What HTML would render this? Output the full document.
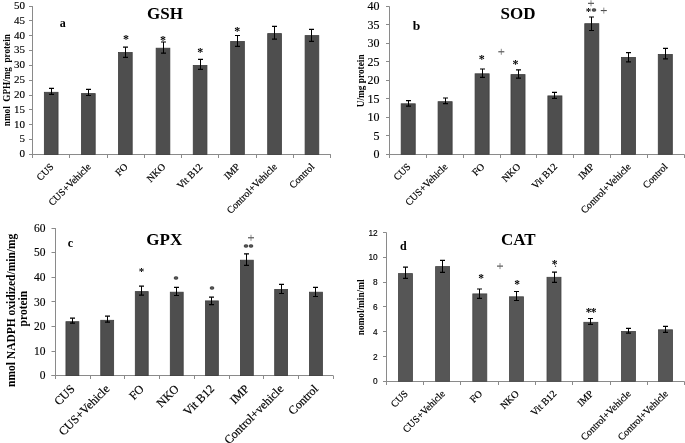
<!DOCTYPE html>
<html><head><meta charset="utf-8"><style>
html,body{margin:0;padding:0;background:#fff;}
body{width:685px;height:443px;overflow:hidden;}
svg{display:block;will-change:transform;}
</style></head><body>
<svg width="685" height="443" viewBox="0 0 685 443">
<rect width="685" height="443" fill="#fff"/>
<line x1="32.5" y1="6.1" x2="32.5" y2="154.4" stroke="#8a8a8a" stroke-width="1"/>
<line x1="29" y1="154.5" x2="330.8" y2="154.5" stroke="#8a8a8a" stroke-width="1"/>
<line x1="29" y1="154.5" x2="32.5" y2="154.5" stroke="#8a8a8a" stroke-width="1"/>
<text x="25" y="157.3" text-anchor="end" font-family='"Liberation Serif", serif' font-size="11" fill="#000" stroke="#000" stroke-width="0.15">0</text>
<line x1="29" y1="139.5" x2="32.5" y2="139.5" stroke="#8a8a8a" stroke-width="1"/>
<text x="25" y="142.47" text-anchor="end" font-family='"Liberation Serif", serif' font-size="11" fill="#000" stroke="#000" stroke-width="0.15">5</text>
<line x1="29" y1="124.5" x2="32.5" y2="124.5" stroke="#8a8a8a" stroke-width="1"/>
<text x="25" y="127.64" text-anchor="end" font-family='"Liberation Serif", serif' font-size="11" fill="#000" stroke="#000" stroke-width="0.15">10</text>
<line x1="29" y1="109.5" x2="32.5" y2="109.5" stroke="#8a8a8a" stroke-width="1"/>
<text x="25" y="112.81" text-anchor="end" font-family='"Liberation Serif", serif' font-size="11" fill="#000" stroke="#000" stroke-width="0.15">15</text>
<line x1="29" y1="95.5" x2="32.5" y2="95.5" stroke="#8a8a8a" stroke-width="1"/>
<text x="25" y="97.98" text-anchor="end" font-family='"Liberation Serif", serif' font-size="11" fill="#000" stroke="#000" stroke-width="0.15">20</text>
<line x1="29" y1="80.5" x2="32.5" y2="80.5" stroke="#8a8a8a" stroke-width="1"/>
<text x="25" y="83.15" text-anchor="end" font-family='"Liberation Serif", serif' font-size="11" fill="#000" stroke="#000" stroke-width="0.15">25</text>
<line x1="29" y1="65.5" x2="32.5" y2="65.5" stroke="#8a8a8a" stroke-width="1"/>
<text x="25" y="68.32" text-anchor="end" font-family='"Liberation Serif", serif' font-size="11" fill="#000" stroke="#000" stroke-width="0.15">30</text>
<line x1="29" y1="50.5" x2="32.5" y2="50.5" stroke="#8a8a8a" stroke-width="1"/>
<text x="25" y="53.49" text-anchor="end" font-family='"Liberation Serif", serif' font-size="11" fill="#000" stroke="#000" stroke-width="0.15">35</text>
<line x1="29" y1="35.5" x2="32.5" y2="35.5" stroke="#8a8a8a" stroke-width="1"/>
<text x="25" y="38.66" text-anchor="end" font-family='"Liberation Serif", serif' font-size="11" fill="#000" stroke="#000" stroke-width="0.15">40</text>
<line x1="29" y1="20.5" x2="32.5" y2="20.5" stroke="#8a8a8a" stroke-width="1"/>
<text x="25" y="23.83" text-anchor="end" font-family='"Liberation Serif", serif' font-size="11" fill="#000" stroke="#000" stroke-width="0.15">45</text>
<line x1="29" y1="6.5" x2="32.5" y2="6.5" stroke="#8a8a8a" stroke-width="1"/>
<text x="25" y="9" text-anchor="end" font-family='"Liberation Serif", serif' font-size="11" fill="#000" stroke="#000" stroke-width="0.15">50</text>
<line x1="32.5" y1="154.5" x2="32.5" y2="158" stroke="#8a8a8a" stroke-width="1"/>
<line x1="69.5" y1="154.5" x2="69.5" y2="158" stroke="#8a8a8a" stroke-width="1"/>
<line x1="107.5" y1="154.5" x2="107.5" y2="158" stroke="#8a8a8a" stroke-width="1"/>
<line x1="144.5" y1="154.5" x2="144.5" y2="158" stroke="#8a8a8a" stroke-width="1"/>
<line x1="181.5" y1="154.5" x2="181.5" y2="158" stroke="#8a8a8a" stroke-width="1"/>
<line x1="218.5" y1="154.5" x2="218.5" y2="158" stroke="#8a8a8a" stroke-width="1"/>
<line x1="256.5" y1="154.5" x2="256.5" y2="158" stroke="#8a8a8a" stroke-width="1"/>
<line x1="293.5" y1="154.5" x2="293.5" y2="158" stroke="#8a8a8a" stroke-width="1"/>
<line x1="330.5" y1="154.5" x2="330.5" y2="158" stroke="#8a8a8a" stroke-width="1"/>
<rect x="44.35" y="92.3" width="13.7" height="62.1" fill="#4e4e4e" stroke="#3c3c3c" stroke-width="0.8"/>
<path d="M49 88.3H54M49 94.4H54" stroke="#000" stroke-width="1.2" fill="none"/>
<path d="M51.5 88.3V94.4" stroke="#000" stroke-width="1" fill="none"/>
<text transform="translate(54.2,167.4) rotate(-45)" text-anchor="end" font-family='"Liberation Serif", serif' font-size="10" fill="#000" stroke="#000" stroke-width="0.2">CUS</text>
<rect x="81.5" y="93.6" width="13.7" height="60.8" fill="#4e4e4e" stroke="#3c3c3c" stroke-width="0.8"/>
<path d="M86 89.4H91M86 95.5H91" stroke="#000" stroke-width="1.2" fill="none"/>
<path d="M88.5 89.4V95.5" stroke="#000" stroke-width="1" fill="none"/>
<text transform="translate(91.35,167.4) rotate(-45)" text-anchor="end" font-family='"Liberation Serif", serif' font-size="10" fill="#000" stroke="#000" stroke-width="0.2">CUS+Vehicle</text>
<rect x="118.5" y="52.5" width="13.7" height="101.9" fill="#4e4e4e" stroke="#3c3c3c" stroke-width="0.8"/>
<path d="M123 47.2H128M123 57.4H128" stroke="#000" stroke-width="1.2" fill="none"/>
<path d="M125.5 47.2V57.4" stroke="#000" stroke-width="1" fill="none"/>
<text transform="translate(128.35,167.4) rotate(-45)" text-anchor="end" font-family='"Liberation Serif", serif' font-size="10" fill="#000" stroke="#000" stroke-width="0.2">FO</text>
<rect x="156.15" y="48.2" width="13.7" height="106.2" fill="#4e4e4e" stroke="#3c3c3c" stroke-width="0.8"/>
<path d="M161 42H166M161 53.2H166" stroke="#000" stroke-width="1.2" fill="none"/>
<path d="M163.5 42V53.2" stroke="#000" stroke-width="1" fill="none"/>
<text transform="translate(166,167.4) rotate(-45)" text-anchor="end" font-family='"Liberation Serif", serif' font-size="10" fill="#000" stroke="#000" stroke-width="0.2">NKO</text>
<rect x="193.25" y="65.4" width="13.7" height="89" fill="#4e4e4e" stroke="#3c3c3c" stroke-width="0.8"/>
<path d="M198 59.3H203M198 69.3H203" stroke="#000" stroke-width="1.2" fill="none"/>
<path d="M200.5 59.3V69.3" stroke="#000" stroke-width="1" fill="none"/>
<text transform="translate(203.1,167.4) rotate(-45)" text-anchor="end" font-family='"Liberation Serif", serif' font-size="10" fill="#000" stroke="#000" stroke-width="0.2">Vit B12</text>
<rect x="230.65" y="41.5" width="13.7" height="112.9" fill="#4e4e4e" stroke="#3c3c3c" stroke-width="0.8"/>
<path d="M235 35.5H240M235 46.3H240" stroke="#000" stroke-width="1.2" fill="none"/>
<path d="M237.5 35.5V46.3" stroke="#000" stroke-width="1" fill="none"/>
<text transform="translate(240.5,167.4) rotate(-45)" text-anchor="end" font-family='"Liberation Serif", serif' font-size="10" fill="#000" stroke="#000" stroke-width="0.2">IMP</text>
<rect x="267.7" y="33.6" width="13.7" height="120.8" fill="#4e4e4e" stroke="#3c3c3c" stroke-width="0.8"/>
<path d="M272 26.4H277M272 39.1H277" stroke="#000" stroke-width="1.2" fill="none"/>
<path d="M274.5 26.4V39.1" stroke="#000" stroke-width="1" fill="none"/>
<text transform="translate(277.55,167.4) rotate(-45)" text-anchor="end" font-family='"Liberation Serif", serif' font-size="10" fill="#000" stroke="#000" stroke-width="0.2">Control+Vehicle</text>
<rect x="305.1" y="35.6" width="13.7" height="118.8" fill="#4e4e4e" stroke="#3c3c3c" stroke-width="0.8"/>
<path d="M309 29.4H314M309 41.3H314" stroke="#000" stroke-width="1.2" fill="none"/>
<path d="M311.5 29.4V41.3" stroke="#000" stroke-width="1" fill="none"/>
<text transform="translate(314.95,167.4) rotate(-45)" text-anchor="end" font-family='"Liberation Serif", serif' font-size="10" fill="#000" stroke="#000" stroke-width="0.2">Control</text>
<text x="165" y="18.6" text-anchor="middle" font-family='"Liberation Serif", serif' font-weight="bold" font-size="17" fill="#000">GSH</text>
<text x="59.8" y="26.7" font-family='"Liberation Serif", serif' font-weight="bold" font-size="12" fill="#000">a</text>
<text transform="translate(10,80.2) rotate(-90) scale(0.9,1)" text-anchor="middle" font-family='"Liberation Serif", serif' font-weight="bold" font-size="10.2" fill="#000" style="white-space:pre">nmol  GPH/mg  protein</text>
<text x="125.9" y="43" text-anchor="middle" font-family='"Liberation Serif", serif' font-weight="bold" font-size="12" fill="#000">*</text>
<text x="162.9" y="43.7" text-anchor="middle" font-family='"Liberation Serif", serif' font-weight="bold" font-size="12" fill="#000">*</text>
<text x="200.3" y="56.2" text-anchor="middle" font-family='"Liberation Serif", serif' font-weight="bold" font-size="12" fill="#000">*</text>
<text x="237.2" y="35.1" text-anchor="middle" font-family='"Liberation Serif", serif' font-weight="bold" font-size="12" fill="#000">*</text>
<line x1="389.5" y1="6.4" x2="389.5" y2="154.3" stroke="#8a8a8a" stroke-width="1"/>
<line x1="386" y1="154.5" x2="684.5" y2="154.5" stroke="#8a8a8a" stroke-width="1"/>
<line x1="386" y1="154.5" x2="389.5" y2="154.5" stroke="#8a8a8a" stroke-width="1"/>
<text x="379.6" y="158.2" text-anchor="end" font-family='"Liberation Serif", serif' font-size="12" fill="#000" stroke="#000" stroke-width="0.15">0</text>
<line x1="386" y1="135.5" x2="389.5" y2="135.5" stroke="#8a8a8a" stroke-width="1"/>
<text x="379.6" y="139.71" text-anchor="end" font-family='"Liberation Serif", serif' font-size="12" fill="#000" stroke="#000" stroke-width="0.15">5</text>
<line x1="386" y1="117.5" x2="389.5" y2="117.5" stroke="#8a8a8a" stroke-width="1"/>
<text x="379.6" y="121.23" text-anchor="end" font-family='"Liberation Serif", serif' font-size="12" fill="#000" stroke="#000" stroke-width="0.15">10</text>
<line x1="386" y1="98.5" x2="389.5" y2="98.5" stroke="#8a8a8a" stroke-width="1"/>
<text x="379.6" y="102.74" text-anchor="end" font-family='"Liberation Serif", serif' font-size="12" fill="#000" stroke="#000" stroke-width="0.15">15</text>
<line x1="386" y1="80.5" x2="389.5" y2="80.5" stroke="#8a8a8a" stroke-width="1"/>
<text x="379.6" y="84.25" text-anchor="end" font-family='"Liberation Serif", serif' font-size="12" fill="#000" stroke="#000" stroke-width="0.15">20</text>
<line x1="386" y1="61.5" x2="389.5" y2="61.5" stroke="#8a8a8a" stroke-width="1"/>
<text x="379.6" y="65.76" text-anchor="end" font-family='"Liberation Serif", serif' font-size="12" fill="#000" stroke="#000" stroke-width="0.15">25</text>
<line x1="386" y1="43.5" x2="389.5" y2="43.5" stroke="#8a8a8a" stroke-width="1"/>
<text x="379.6" y="47.27" text-anchor="end" font-family='"Liberation Serif", serif' font-size="12" fill="#000" stroke="#000" stroke-width="0.15">30</text>
<line x1="386" y1="24.5" x2="389.5" y2="24.5" stroke="#8a8a8a" stroke-width="1"/>
<text x="379.6" y="28.79" text-anchor="end" font-family='"Liberation Serif", serif' font-size="12" fill="#000" stroke="#000" stroke-width="0.15">35</text>
<line x1="386" y1="6.5" x2="389.5" y2="6.5" stroke="#8a8a8a" stroke-width="1"/>
<text x="379.6" y="10.3" text-anchor="end" font-family='"Liberation Serif", serif' font-size="12" fill="#000" stroke="#000" stroke-width="0.15">40</text>
<line x1="389.5" y1="154.5" x2="389.5" y2="158" stroke="#8a8a8a" stroke-width="1"/>
<line x1="426.5" y1="154.5" x2="426.5" y2="158" stroke="#8a8a8a" stroke-width="1"/>
<line x1="463.5" y1="154.5" x2="463.5" y2="158" stroke="#8a8a8a" stroke-width="1"/>
<line x1="500.5" y1="154.5" x2="500.5" y2="158" stroke="#8a8a8a" stroke-width="1"/>
<line x1="536.5" y1="154.5" x2="536.5" y2="158" stroke="#8a8a8a" stroke-width="1"/>
<line x1="573.5" y1="154.5" x2="573.5" y2="158" stroke="#8a8a8a" stroke-width="1"/>
<line x1="610.5" y1="154.5" x2="610.5" y2="158" stroke="#8a8a8a" stroke-width="1"/>
<line x1="647.5" y1="154.5" x2="647.5" y2="158" stroke="#8a8a8a" stroke-width="1"/>
<line x1="684.5" y1="154.5" x2="684.5" y2="158" stroke="#8a8a8a" stroke-width="1"/>
<rect x="401.18" y="103.8" width="14.05" height="50.5" fill="#4e4e4e" stroke="#3c3c3c" stroke-width="0.8"/>
<path d="M406 100.6H411M406 106.2H411" stroke="#000" stroke-width="1.2" fill="none"/>
<path d="M408.5 100.6V106.2" stroke="#000" stroke-width="1" fill="none"/>
<text transform="translate(411.2,167.3) rotate(-45)" text-anchor="end" font-family='"Liberation Serif", serif' font-size="10" fill="#000" stroke="#000" stroke-width="0.2">CUS</text>
<rect x="438.08" y="101.7" width="14.05" height="52.6" fill="#4e4e4e" stroke="#3c3c3c" stroke-width="0.8"/>
<path d="M443 98H448M443 103.6H448" stroke="#000" stroke-width="1.2" fill="none"/>
<path d="M445.5 98V103.6" stroke="#000" stroke-width="1" fill="none"/>
<text transform="translate(448.1,167.3) rotate(-45)" text-anchor="end" font-family='"Liberation Serif", serif' font-size="10" fill="#000" stroke="#000" stroke-width="0.2">CUS+Vehicle</text>
<rect x="475.08" y="73.8" width="14.05" height="80.5" fill="#4e4e4e" stroke="#3c3c3c" stroke-width="0.8"/>
<path d="M480 69H485M480 77.4H485" stroke="#000" stroke-width="1.2" fill="none"/>
<path d="M482.5 69V77.4" stroke="#000" stroke-width="1" fill="none"/>
<text transform="translate(485.1,167.3) rotate(-45)" text-anchor="end" font-family='"Liberation Serif", serif' font-size="10" fill="#000" stroke="#000" stroke-width="0.2">FO</text>
<rect x="510.98" y="74.6" width="14.05" height="79.7" fill="#4e4e4e" stroke="#3c3c3c" stroke-width="0.8"/>
<path d="M516 69.9H521M516 78.2H521" stroke="#000" stroke-width="1.2" fill="none"/>
<path d="M518.5 69.9V78.2" stroke="#000" stroke-width="1" fill="none"/>
<text transform="translate(521,167.3) rotate(-45)" text-anchor="end" font-family='"Liberation Serif", serif' font-size="10" fill="#000" stroke="#000" stroke-width="0.2">NKO</text>
<rect x="547.88" y="95.9" width="14.05" height="58.4" fill="#4e4e4e" stroke="#3c3c3c" stroke-width="0.8"/>
<path d="M552 92.3H557M552 98.3H557" stroke="#000" stroke-width="1.2" fill="none"/>
<path d="M554.5 92.3V98.3" stroke="#000" stroke-width="1" fill="none"/>
<text transform="translate(557.9,167.3) rotate(-45)" text-anchor="end" font-family='"Liberation Serif", serif' font-size="10" fill="#000" stroke="#000" stroke-width="0.2">Vit B12</text>
<rect x="584.77" y="23.7" width="14.05" height="130.6" fill="#4e4e4e" stroke="#3c3c3c" stroke-width="0.8"/>
<path d="M589 17H594M589 30.5H594" stroke="#000" stroke-width="1.2" fill="none"/>
<path d="M591.5 17V30.5" stroke="#000" stroke-width="1" fill="none"/>
<text transform="translate(594.8,167.3) rotate(-45)" text-anchor="end" font-family='"Liberation Serif", serif' font-size="10" fill="#000" stroke="#000" stroke-width="0.2">IMP</text>
<rect x="621.43" y="57.4" width="14.05" height="96.9" fill="#4e4e4e" stroke="#3c3c3c" stroke-width="0.8"/>
<path d="M626 52.6H631M626 61.9H631" stroke="#000" stroke-width="1.2" fill="none"/>
<path d="M628.5 52.6V61.9" stroke="#000" stroke-width="1" fill="none"/>
<text transform="translate(631.45,167.3) rotate(-45)" text-anchor="end" font-family='"Liberation Serif", serif' font-size="10" fill="#000" stroke="#000" stroke-width="0.2">Control+Vehicle</text>
<rect x="658.27" y="54.4" width="14.05" height="99.9" fill="#4e4e4e" stroke="#3c3c3c" stroke-width="0.8"/>
<path d="M663 48.3H668M663 58.9H668" stroke="#000" stroke-width="1.2" fill="none"/>
<path d="M665.5 48.3V58.9" stroke="#000" stroke-width="1" fill="none"/>
<text transform="translate(668.3,167.3) rotate(-45)" text-anchor="end" font-family='"Liberation Serif", serif' font-size="10" fill="#000" stroke="#000" stroke-width="0.2">Control</text>
<text x="518" y="18.7" text-anchor="middle" font-family='"Liberation Serif", serif' font-weight="bold" font-size="17" fill="#000">SOD</text>
<text x="412.8" y="29.8" font-family='"Liberation Serif", serif' font-weight="bold" font-size="13.5" fill="#000">b</text>
<text transform="translate(363.6,80.8) rotate(-90) scale(1,1)" text-anchor="middle" font-family='"Liberation Serif", serif' font-weight="bold" font-size="9.3" fill="#000" style="white-space:pre">U/mg protein</text>
<text x="481.7" y="62.7" text-anchor="middle" font-family='"Liberation Serif", serif' font-weight="bold" font-size="12" fill="#000">*</text>
<text x="515.4" y="68.1" text-anchor="middle" font-family='"Liberation Serif", serif' font-weight="bold" font-size="12" fill="#000">*</text>
<text x="588.5" y="15.04" text-anchor="middle" font-family='"Liberation Serif", serif' font-weight="bold" font-size="11" fill="#000">*</text>
<text x="593.9" y="15.04" text-anchor="middle" font-family='"Liberation Serif", serif' font-weight="bold" font-size="11" fill="#000">*</text>
<path d="M588 3.3H594" stroke="#222" stroke-width="0.9" fill="none"/>
<path d="M591 0.3V6.3" stroke="#666" stroke-width="0.75" fill="none"/>
<path d="M600.8 10.6H606.8" stroke="#222" stroke-width="0.9" fill="none"/>
<path d="M603.8 7.6V13.6" stroke="#666" stroke-width="0.75" fill="none"/>
<path d="M498.3 51.8H504.3" stroke="#222" stroke-width="0.9" fill="none"/>
<path d="M501.3 48.8V54.8" stroke="#666" stroke-width="0.75" fill="none"/>
<line x1="55.5" y1="228.1" x2="55.5" y2="375.6" stroke="#8a8a8a" stroke-width="1"/>
<line x1="51.5" y1="375.5" x2="333.2" y2="375.5" stroke="#8a8a8a" stroke-width="1"/>
<line x1="51.5" y1="375.5" x2="55.5" y2="375.5" stroke="#8a8a8a" stroke-width="1"/>
<text x="45.5" y="379.4" text-anchor="end" font-family='"Liberation Serif", serif' font-size="11.5" fill="#000" stroke="#000" stroke-width="0.15">0</text>
<line x1="51.5" y1="351.5" x2="55.5" y2="351.5" stroke="#8a8a8a" stroke-width="1"/>
<text x="45.5" y="354.82" text-anchor="end" font-family='"Liberation Serif", serif' font-size="11.5" fill="#000" stroke="#000" stroke-width="0.15">10</text>
<line x1="51.5" y1="326.5" x2="55.5" y2="326.5" stroke="#8a8a8a" stroke-width="1"/>
<text x="45.5" y="330.23" text-anchor="end" font-family='"Liberation Serif", serif' font-size="11.5" fill="#000" stroke="#000" stroke-width="0.15">20</text>
<line x1="51.5" y1="301.5" x2="55.5" y2="301.5" stroke="#8a8a8a" stroke-width="1"/>
<text x="45.5" y="305.65" text-anchor="end" font-family='"Liberation Serif", serif' font-size="11.5" fill="#000" stroke="#000" stroke-width="0.15">30</text>
<line x1="51.5" y1="277.5" x2="55.5" y2="277.5" stroke="#8a8a8a" stroke-width="1"/>
<text x="45.5" y="281.07" text-anchor="end" font-family='"Liberation Serif", serif' font-size="11.5" fill="#000" stroke="#000" stroke-width="0.15">40</text>
<line x1="51.5" y1="252.5" x2="55.5" y2="252.5" stroke="#8a8a8a" stroke-width="1"/>
<text x="45.5" y="256.48" text-anchor="end" font-family='"Liberation Serif", serif' font-size="11.5" fill="#000" stroke="#000" stroke-width="0.15">50</text>
<line x1="51.5" y1="228.5" x2="55.5" y2="228.5" stroke="#8a8a8a" stroke-width="1"/>
<text x="45.5" y="231.9" text-anchor="end" font-family='"Liberation Serif", serif' font-size="11.5" fill="#000" stroke="#000" stroke-width="0.15">60</text>
<line x1="55.5" y1="375.5" x2="55.5" y2="379" stroke="#8a8a8a" stroke-width="1"/>
<line x1="90.5" y1="375.5" x2="90.5" y2="379" stroke="#8a8a8a" stroke-width="1"/>
<line x1="124.5" y1="375.5" x2="124.5" y2="379" stroke="#8a8a8a" stroke-width="1"/>
<line x1="159.5" y1="375.5" x2="159.5" y2="379" stroke="#8a8a8a" stroke-width="1"/>
<line x1="194.5" y1="375.5" x2="194.5" y2="379" stroke="#8a8a8a" stroke-width="1"/>
<line x1="229.5" y1="375.5" x2="229.5" y2="379" stroke="#8a8a8a" stroke-width="1"/>
<line x1="263.5" y1="375.5" x2="263.5" y2="379" stroke="#8a8a8a" stroke-width="1"/>
<line x1="298.5" y1="375.5" x2="298.5" y2="379" stroke="#8a8a8a" stroke-width="1"/>
<line x1="333.5" y1="375.5" x2="333.5" y2="379" stroke="#8a8a8a" stroke-width="1"/>
<rect x="65.95" y="321.7" width="12.9" height="53.9" fill="#4e4e4e" stroke="#3c3c3c" stroke-width="0.8"/>
<path d="M70 318.2H75M70 323.1H75" stroke="#000" stroke-width="1.2" fill="none"/>
<path d="M72.5 318.2V323.1" stroke="#000" stroke-width="1" fill="none"/>
<text transform="translate(75.4,389.6) rotate(-45)" text-anchor="end" font-family='"Liberation Serif", serif' font-size="12" fill="#000" stroke="#000" stroke-width="0.2">CUS</text>
<rect x="100.75" y="320.3" width="12.9" height="55.3" fill="#4e4e4e" stroke="#3c3c3c" stroke-width="0.8"/>
<path d="M105 316.2H110M105 322.2H110" stroke="#000" stroke-width="1.2" fill="none"/>
<path d="M107.5 316.2V322.2" stroke="#000" stroke-width="1" fill="none"/>
<text transform="translate(110.2,389.6) rotate(-45)" text-anchor="end" font-family='"Liberation Serif", serif' font-size="12" fill="#000" stroke="#000" stroke-width="0.2">CUS+Vehicle</text>
<rect x="135.3" y="291.6" width="12.9" height="84" fill="#4e4e4e" stroke="#3c3c3c" stroke-width="0.8"/>
<path d="M139 286.1H144M139 295.1H144" stroke="#000" stroke-width="1.2" fill="none"/>
<path d="M141.5 286.1V295.1" stroke="#000" stroke-width="1" fill="none"/>
<text transform="translate(144.75,389.6) rotate(-45)" text-anchor="end" font-family='"Liberation Serif", serif' font-size="12" fill="#000" stroke="#000" stroke-width="0.2">FO</text>
<rect x="170.3" y="292.2" width="12.9" height="83.4" fill="#4e4e4e" stroke="#3c3c3c" stroke-width="0.8"/>
<path d="M174 287.3H179M174 295.5H179" stroke="#000" stroke-width="1.2" fill="none"/>
<path d="M176.5 287.3V295.5" stroke="#000" stroke-width="1" fill="none"/>
<text transform="translate(179.75,389.6) rotate(-45)" text-anchor="end" font-family='"Liberation Serif", serif' font-size="12" fill="#000" stroke="#000" stroke-width="0.2">NKO</text>
<rect x="205.45" y="300.9" width="12.9" height="74.7" fill="#4e4e4e" stroke="#3c3c3c" stroke-width="0.8"/>
<path d="M209 297.2H214M209 304.7H214" stroke="#000" stroke-width="1.2" fill="none"/>
<path d="M211.5 297.2V304.7" stroke="#000" stroke-width="1" fill="none"/>
<text transform="translate(214.9,389.6) rotate(-45)" text-anchor="end" font-family='"Liberation Serif", serif' font-size="12" fill="#000" stroke="#000" stroke-width="0.2">Vit B12</text>
<rect x="240.4" y="260.2" width="12.9" height="115.4" fill="#4e4e4e" stroke="#3c3c3c" stroke-width="0.8"/>
<path d="M244 253.9H249M244 265.4H249" stroke="#000" stroke-width="1.2" fill="none"/>
<path d="M246.5 253.9V265.4" stroke="#000" stroke-width="1" fill="none"/>
<text transform="translate(249.85,389.6) rotate(-45)" text-anchor="end" font-family='"Liberation Serif", serif' font-size="12" fill="#000" stroke="#000" stroke-width="0.2">IMP</text>
<rect x="274.7" y="289.4" width="12.9" height="86.2" fill="#4e4e4e" stroke="#3c3c3c" stroke-width="0.8"/>
<path d="M279 284.3H284M279 293.5H284" stroke="#000" stroke-width="1.2" fill="none"/>
<path d="M281.5 284.3V293.5" stroke="#000" stroke-width="1" fill="none"/>
<text transform="translate(284.15,389.6) rotate(-45)" text-anchor="end" font-family='"Liberation Serif", serif' font-size="12" fill="#000" stroke="#000" stroke-width="0.2">Control+vehicle</text>
<rect x="309.5" y="292.2" width="12.9" height="83.4" fill="#4e4e4e" stroke="#3c3c3c" stroke-width="0.8"/>
<path d="M313 287.3H318M313 296.5H318" stroke="#000" stroke-width="1.2" fill="none"/>
<path d="M315.5 287.3V296.5" stroke="#000" stroke-width="1" fill="none"/>
<text transform="translate(318.95,389.6) rotate(-45)" text-anchor="end" font-family='"Liberation Serif", serif' font-size="12" fill="#000" stroke="#000" stroke-width="0.2">Control</text>
<text x="164.3" y="245.4" text-anchor="middle" font-family='"Liberation Serif", serif' font-weight="bold" font-size="17" fill="#000">GPX</text>
<text x="67.8" y="247.1" font-family='"Liberation Serif", serif' font-weight="bold" font-size="12" fill="#000">c</text>
<text transform="translate(14.9,310.3) rotate(-90) scale(1,1)" text-anchor="middle" font-family='"Liberation Serif", serif' font-weight="bold" font-size="11.5" fill="#000" style="white-space:pre">nmol NADPH oxidized/min/mg</text>
<text transform="translate(26.9,308.6) rotate(-90) scale(1,1)" text-anchor="middle" font-family='"Liberation Serif", serif' font-weight="bold" font-size="11.5" fill="#000" style="white-space:pre">protein</text>
<text x="141.5" y="275.44" text-anchor="middle" font-family='"Liberation Serif", serif' font-weight="bold" font-size="11" fill="#000">*</text>
<text x="175.9" y="282.74" text-anchor="middle" font-family='"Liberation Serif", serif' font-weight="bold" font-size="11" fill="#000">*</text>
<text x="212.1" y="292.84" text-anchor="middle" font-family='"Liberation Serif", serif' font-weight="bold" font-size="11" fill="#000">*</text>
<text x="246.1" y="251.34" text-anchor="middle" font-family='"Liberation Serif", serif' font-weight="bold" font-size="11" fill="#000">*</text>
<text x="251.1" y="251.34" text-anchor="middle" font-family='"Liberation Serif", serif' font-weight="bold" font-size="11" fill="#000">*</text>
<path d="M248 237.8H254" stroke="#222" stroke-width="0.9" fill="none"/>
<path d="M251 234.8V240.8" stroke="#666" stroke-width="0.75" fill="none"/>
<line x1="386.5" y1="232.5" x2="386.5" y2="381.3" stroke="#8a8a8a" stroke-width="1"/>
<line x1="383" y1="381.5" x2="684.5" y2="381.5" stroke="#8a8a8a" stroke-width="1"/>
<line x1="383" y1="381.5" x2="386.5" y2="381.5" stroke="#8a8a8a" stroke-width="1"/>
<text x="377.7" y="384.3" text-anchor="end" font-family='"Liberation Sans", sans-serif' font-size="8.3" fill="#000" stroke="#000" stroke-width="0.15">0</text>
<line x1="383" y1="356.5" x2="386.5" y2="356.5" stroke="#8a8a8a" stroke-width="1"/>
<text x="377.7" y="359.5" text-anchor="end" font-family='"Liberation Sans", sans-serif' font-size="8.3" fill="#000" stroke="#000" stroke-width="0.15">2</text>
<line x1="383" y1="331.5" x2="386.5" y2="331.5" stroke="#8a8a8a" stroke-width="1"/>
<text x="377.7" y="334.7" text-anchor="end" font-family='"Liberation Sans", sans-serif' font-size="8.3" fill="#000" stroke="#000" stroke-width="0.15">4</text>
<line x1="383" y1="306.5" x2="386.5" y2="306.5" stroke="#8a8a8a" stroke-width="1"/>
<text x="377.7" y="309.9" text-anchor="end" font-family='"Liberation Sans", sans-serif' font-size="8.3" fill="#000" stroke="#000" stroke-width="0.15">6</text>
<line x1="383" y1="282.5" x2="386.5" y2="282.5" stroke="#8a8a8a" stroke-width="1"/>
<text x="377.7" y="285.1" text-anchor="end" font-family='"Liberation Sans", sans-serif' font-size="8.3" fill="#000" stroke="#000" stroke-width="0.15">8</text>
<line x1="383" y1="257.5" x2="386.5" y2="257.5" stroke="#8a8a8a" stroke-width="1"/>
<text x="377.7" y="260.3" text-anchor="end" font-family='"Liberation Sans", sans-serif' font-size="8.3" fill="#000" stroke="#000" stroke-width="0.15">10</text>
<line x1="383" y1="232.5" x2="386.5" y2="232.5" stroke="#8a8a8a" stroke-width="1"/>
<text x="377.7" y="235.5" text-anchor="end" font-family='"Liberation Sans", sans-serif' font-size="8.3" fill="#000" stroke="#000" stroke-width="0.15">12</text>
<line x1="386.5" y1="381.5" x2="386.5" y2="385" stroke="#8a8a8a" stroke-width="1"/>
<line x1="423.5" y1="381.5" x2="423.5" y2="385" stroke="#8a8a8a" stroke-width="1"/>
<line x1="460.5" y1="381.5" x2="460.5" y2="385" stroke="#8a8a8a" stroke-width="1"/>
<line x1="498.5" y1="381.5" x2="498.5" y2="385" stroke="#8a8a8a" stroke-width="1"/>
<line x1="535.5" y1="381.5" x2="535.5" y2="385" stroke="#8a8a8a" stroke-width="1"/>
<line x1="572.5" y1="381.5" x2="572.5" y2="385" stroke="#8a8a8a" stroke-width="1"/>
<line x1="610.5" y1="381.5" x2="610.5" y2="385" stroke="#8a8a8a" stroke-width="1"/>
<line x1="647.5" y1="381.5" x2="647.5" y2="385" stroke="#8a8a8a" stroke-width="1"/>
<line x1="684.5" y1="381.5" x2="684.5" y2="385" stroke="#8a8a8a" stroke-width="1"/>
<rect x="398.45" y="273.6" width="14" height="107.7" fill="#565656" stroke="#444444" stroke-width="0.8"/>
<path d="M403 267.1H408M403 278.4H408" stroke="#000" stroke-width="1.2" fill="none"/>
<path d="M405.5 267.1V278.4" stroke="#000" stroke-width="1" fill="none"/>
<text transform="translate(408.45,394.3) rotate(-45)" text-anchor="end" font-family='"Liberation Serif", serif' font-size="10" fill="#000" stroke="#000" stroke-width="0.2">CUS</text>
<rect x="435.6" y="266.6" width="14" height="114.7" fill="#565656" stroke="#444444" stroke-width="0.8"/>
<path d="M440 260.3H445M440 272.3H445" stroke="#000" stroke-width="1.2" fill="none"/>
<path d="M442.5 260.3V272.3" stroke="#000" stroke-width="1" fill="none"/>
<text transform="translate(445.6,394.3) rotate(-45)" text-anchor="end" font-family='"Liberation Serif", serif' font-size="10" fill="#000" stroke="#000" stroke-width="0.2">CUS+Vehicle</text>
<rect x="472.8" y="293.9" width="14" height="87.4" fill="#565656" stroke="#444444" stroke-width="0.8"/>
<path d="M477 289H482M477 298.3H482" stroke="#000" stroke-width="1.2" fill="none"/>
<path d="M479.5 289V298.3" stroke="#000" stroke-width="1" fill="none"/>
<text transform="translate(482.8,394.3) rotate(-45)" text-anchor="end" font-family='"Liberation Serif", serif' font-size="10" fill="#000" stroke="#000" stroke-width="0.2">FO</text>
<rect x="509.5" y="296.8" width="14" height="84.5" fill="#565656" stroke="#444444" stroke-width="0.8"/>
<path d="M514 291.5H519M514 300.5H519" stroke="#000" stroke-width="1.2" fill="none"/>
<path d="M516.5 291.5V300.5" stroke="#000" stroke-width="1" fill="none"/>
<text transform="translate(519.5,394.3) rotate(-45)" text-anchor="end" font-family='"Liberation Serif", serif' font-size="10" fill="#000" stroke="#000" stroke-width="0.2">NKO</text>
<rect x="547" y="277.3" width="14" height="104" fill="#565656" stroke="#444444" stroke-width="0.8"/>
<path d="M552 272.1H557M552 282.3H557" stroke="#000" stroke-width="1.2" fill="none"/>
<path d="M554.5 272.1V282.3" stroke="#000" stroke-width="1" fill="none"/>
<text transform="translate(557,394.3) rotate(-45)" text-anchor="end" font-family='"Liberation Serif", serif' font-size="10" fill="#000" stroke="#000" stroke-width="0.2">Vit B12</text>
<rect x="583.85" y="322.3" width="14" height="59" fill="#565656" stroke="#444444" stroke-width="0.8"/>
<path d="M588 318.5H593M588 324.4H593" stroke="#000" stroke-width="1.2" fill="none"/>
<path d="M590.5 318.5V324.4" stroke="#000" stroke-width="1" fill="none"/>
<text transform="translate(593.85,394.3) rotate(-45)" text-anchor="end" font-family='"Liberation Serif", serif' font-size="10" fill="#000" stroke="#000" stroke-width="0.2">IMP</text>
<rect x="621.45" y="331.4" width="14" height="49.9" fill="#565656" stroke="#444444" stroke-width="0.8"/>
<path d="M626 328.3H631M626 333.2H631" stroke="#000" stroke-width="1.2" fill="none"/>
<path d="M628.5 328.3V333.2" stroke="#000" stroke-width="1" fill="none"/>
<text transform="translate(631.45,394.3) rotate(-45)" text-anchor="end" font-family='"Liberation Serif", serif' font-size="10" fill="#000" stroke="#000" stroke-width="0.2">Control+Vehicle</text>
<rect x="658.55" y="329.8" width="14" height="51.5" fill="#565656" stroke="#444444" stroke-width="0.8"/>
<path d="M663 326.4H668M663 332.3H668" stroke="#000" stroke-width="1.2" fill="none"/>
<path d="M665.5 326.4V332.3" stroke="#000" stroke-width="1" fill="none"/>
<text transform="translate(668.55,394.3) rotate(-45)" text-anchor="end" font-family='"Liberation Serif", serif' font-size="10" fill="#000" stroke="#000" stroke-width="0.2">Control+Vehicle</text>
<text x="518.2" y="245.4" text-anchor="middle" font-family='"Liberation Serif", serif' font-weight="bold" font-size="17" fill="#000">CAT</text>
<text x="400" y="249.5" font-family='"Liberation Serif", serif' font-weight="bold" font-size="12" fill="#000">d</text>
<text transform="translate(363.6,307.4) rotate(-90) scale(1,1)" text-anchor="middle" font-family='"Liberation Serif", serif' font-weight="bold" font-size="9.3" fill="#000" style="white-space:pre">nomol/min/ml</text>
<text x="481" y="281.77" text-anchor="middle" font-family='"Liberation Serif", serif' font-weight="bold" font-size="11.5" fill="#000">*</text>
<text x="517.1" y="287.77" text-anchor="middle" font-family='"Liberation Serif", serif' font-weight="bold" font-size="11.5" fill="#000">*</text>
<text x="554.6" y="267.57" text-anchor="middle" font-family='"Liberation Serif", serif' font-weight="bold" font-size="11.5" fill="#000">*</text>
<circle cx="555.5" cy="266.2" r="0.7" fill="#333"/>
<text x="588.6" y="316.37" text-anchor="middle" font-family='"Liberation Serif", serif' font-weight="bold" font-size="11.5" fill="#000">*</text>
<text x="593.6" y="316.37" text-anchor="middle" font-family='"Liberation Serif", serif' font-weight="bold" font-size="11.5" fill="#000">*</text>
<path d="M497 266.1H503" stroke="#222" stroke-width="0.9" fill="none"/>
<path d="M500 263.1V269.1" stroke="#666" stroke-width="0.75" fill="none"/>
</svg>
</body></html>
